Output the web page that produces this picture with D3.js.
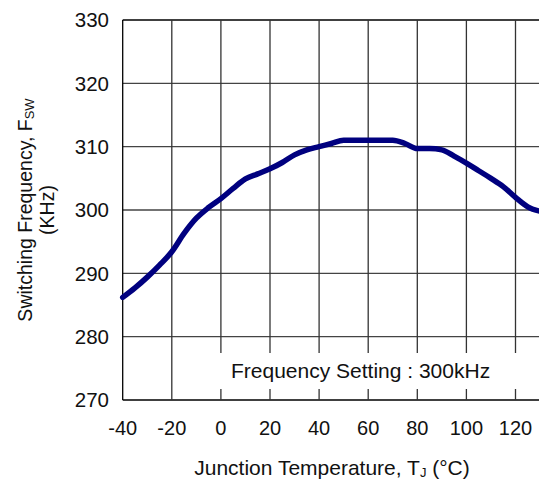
<!DOCTYPE html>
<html>
<head>
<meta charset="utf-8">
<script src="https://cdn.jsdelivr.net/npm/d3@7"></script>
<style>
  body { margin: 0; background: #fff; }
  svg { display: block; font-family: "Liberation Sans", Arial, sans-serif; }
</style>
</head>
<body>
<svg id="chart" width="539" height="480"></svg>
<script>
// data
var temps = [-40, -35, -30, -25, -20, -15, -10, -5, 0, 5, 10, 15, 20, 25, 30, 35, 40, 45, 50, 55,
             60, 65, 70, 75, 80, 85, 90, 95, 100, 105, 110, 115, 120, 125, 130];
var freqs = [286.2, 287.7, 289.4, 291.3, 293.4, 296.3, 298.7, 300.4, 301.8, 303.4, 304.9, 305.7,
             306.5, 307.5, 308.7, 309.5, 310.0, 310.5, 311.0, 311.0, 311.0, 311.0, 311.0, 310.5,
             309.7, 309.7, 309.5, 308.5, 307.4, 306.2, 305.0, 303.7, 302.0, 300.5, 299.8];
var xGrid = [-40, -20, 0, 20, 40, 60, 80, 100, 120, 140];
var xTicks = [-40, -20, 0, 20, 40, 60, 80, 100, 120];
var yTicks = [270, 280, 290, 300, 310, 320, 330];
var note = "Frequency Setting : 300kHz";

var svg = d3.select("#chart");
var plot = { left: 122.7, top: 20, bottom: 400 };
var xStep = 49.1;

var x = d3.scaleLinear().domain([-40, 140]).range([plot.left, plot.left + 9 * xStep]);
var y = d3.scaleLinear().domain([270, 330]).range([plot.bottom, plot.top]);

// grid
svg.append("g").selectAll("line")
    .data(yTicks)
    .enter().append("line")
    .attr("x1", plot.left).attr("x2", x(140))
    .attr("y1", function (d) { return y(d); })
    .attr("y2", function (d) { return y(d); })
    .attr("stroke", function (d) { return (d == 270 || d == 330) ? "#000" : "#444"; })
    .attr("stroke-width", 1.3);

svg.append("g").selectAll("line")
    .data(xGrid)
    .enter().append("line")
    .attr("y1", plot.top).attr("y2", plot.bottom)
    .attr("x1", function (d) { return x(d); })
    .attr("x2", function (d) { return x(d); })
    .attr("stroke", function (d) { return d == -40 ? "#000" : "#333"; })
    .attr("stroke-width", 1.3);

// note box covers the grid
svg.append("rect")
    .attr("x", 196).attr("y", 353)
    .attr("width", 345).attr("height", 36)
    .attr("fill", "#fff");

svg.append("text")
    .attr("x", 231).attr("y", 378)
    .attr("font-size", 21)
    .attr("fill", "#111")
    .text(note);

// curve
var line = d3.line()
    .x(function (d, i) { return x(temps[i]); })
    .y(function (d) { return y(d); })
    .curve(d3.curveMonotoneX);

svg.append("path")
    .datum(freqs)
    .attr("d", line)
    .attr("fill", "none")
    .attr("stroke", "#00007f")
    .attr("stroke-width", 5.5)
    .attr("stroke-linecap", "round")
    .attr("stroke-linejoin", "round");

// tick labels
svg.append("g").selectAll("text")
    .data(yTicks)
    .enter().append("text")
    .attr("x", 109)
    .attr("y", function (d) { return y(d); })
    .attr("dy", "0.36em")
    .attr("text-anchor", "end")
    .attr("font-size", 20.5)
    .attr("fill", "#111")
    .text(function (d) { return d; });

svg.append("g").selectAll("text")
    .data(xTicks)
    .enter().append("text")
    .attr("x", function (d) { return x(d); })
    .attr("y", 435)
    .attr("text-anchor", "middle")
    .attr("font-size", 20)
    .attr("fill", "#111")
    .text(function (d) { return d; });

// axis titles
var xt = svg.append("text")
    .attr("x", 332).attr("y", 475)
    .attr("text-anchor", "middle")
    .attr("font-size", 21)
    .attr("fill", "#111");
xt.append("tspan").text("Junction Temperature, T");
xt.append("tspan").attr("font-size", 13).attr("dy", 2).text("J");
xt.append("tspan").attr("dy", -2).text(" (\u00B0C)");

var yt = svg.append("text")
    .attr("transform", "translate(32,210) rotate(-90)")
    .attr("text-anchor", "middle")
    .attr("font-size", 19.5)
    .attr("fill", "#111");
yt.append("tspan").text("Switching Frequency, F");
yt.append("tspan").attr("font-size", 13).attr("dy", 2).text("SW");

svg.append("text")
    .attr("transform", "translate(54,210) rotate(-90)")
    .attr("text-anchor", "middle")
    .attr("font-size", 19.5)
    .attr("fill", "#111")
    .text("(KHz)");
</script>
</body>
</html>
